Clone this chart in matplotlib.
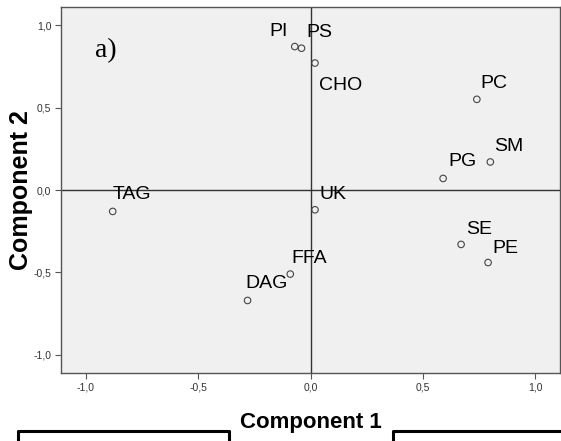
import matplotlib.pyplot as plt
from matplotlib.lines import Line2D

# Component loadings
labels = ['PI', 'PS', 'CHO', 'PC', 'SM', 'PG', 'TAG', 'UK', 'SE', 'PE', 'FFA', 'DAG']
comp1 = [-0.07, -0.04, 0.02, 0.74, 0.80, 0.59, -0.88, 0.02, 0.67, 0.79, -0.09, -0.28]
comp2 = [0.87, 0.86, 0.77, 0.55, 0.17, 0.07, -0.13, -0.12, -0.33, -0.44, -0.51, -0.67]
ticks = [-1.0, -0.5, 0.0, 0.5, 1.0]
tick_labels = ['-1,0', '-0,5', '0,0', '0,5', '1,0']

# label offsets in pixels (dx, dy, horizontal alignment)
label_pos = {
    'PI': (-7, 11, 'right'), 'PS': (5, 11, 'left'), 'CHO': (4, -27, 'left'),
    'PC': (4, 11, 'left'), 'SM': (4, 11, 'left'), 'PG': (5, 12, 'left'),
    'TAG': (0, 12, 'left'), 'UK': (5, 11, 'left'), 'SE': (5, 10, 'left'),
    'PE': (4, 10, 'left'), 'FFA': (1, 11, 'left'), 'DAG': (-2, 12, 'left'),
}

plt.rcParams['font.family'] = ['Liberation Sans', 'DejaVu Sans']

fig = plt.figure(figsize=(5.61, 4.41), dpi=100)
ax = fig.add_axes([61 / 561, (441 - 373) / 441, 499 / 561, 366 / 441])
ax.set_facecolor('#f0f0f0')

ax.axhline(0, color='#333333', lw=1.0, zorder=1)
ax.axvline(0, color='#333333', lw=1.0, zorder=1)

ax.scatter(comp1, comp2, s=22, facecolors='none', edgecolors='#444444', linewidths=0.8, zorder=3)

for name, x, y in zip(labels, comp1, comp2):
    dx, dy, ha = label_pos[name]
    ax.annotate(name, (x, y), xytext=(dx, dy), textcoords='offset pixels',
                ha=ha, va='baseline', fontsize=14, color='black')

# panel tag, placed in figure pixels
fig.text(95 / 561, (441 - 57) / 441, 'a)', fontsize=20, family='Liberation Serif')

ax.set_xlim(-1.11, 1.11)
ax.set_ylim(-1.11, 1.11)
ax.set_xticks(ticks)
ax.set_xticklabels(tick_labels)
ax.set_yticks(ticks)
ax.set_yticklabels(tick_labels)
ax.tick_params(direction='out', length=4, width=0.8, color='#555555',
               labelsize=7.5, labelcolor='#333333', pad=3)
for s in ax.spines.values():
    s.set_color('#555555')
    s.set_linewidth(1.0)

ax.set_xlabel('Component 1', fontsize=16, fontweight='bold', labelpad=14)
ax.set_ylabel('Component 2', fontsize=18, fontweight='bold')
ax.yaxis.set_label_coords((33 - 61) / 499, 0.5)

# leftover box frames at the bottom edge
top = (441 - 431) / 441
fig.add_artist(Line2D([18 / 561, 18 / 561, 229 / 561, 229 / 561], [-0.02, top, top, -0.02],
                      color='black', lw=2.2))
fig.add_artist(Line2D([393 / 561, 393 / 561, 1.0], [-0.02, top, top], color='black', lw=2.2))

fig.savefig('out.png', dpi=100)
